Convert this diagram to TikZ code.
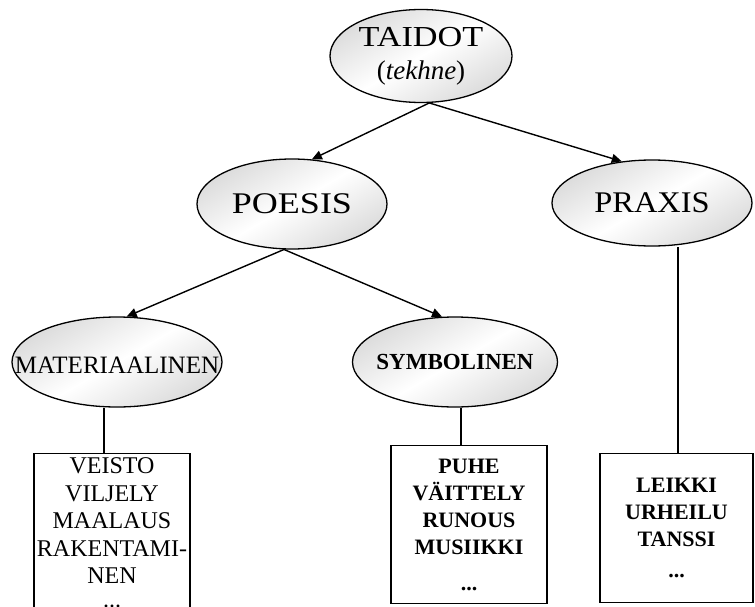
\documentclass[tikz,border=0pt]{standalone}
\usepackage{fontspec}
\setmainfont{Liberation Serif}
\usetikzlibrary{shapes.geometric,arrows.meta,calc}

\newcommand\fsz[2]{\fontsize{#1}{#2}\selectfont}
\newcommand\widen[2]{\scalebox{#1}[1]{#2}}

\tikzset{
  oval/.style={ellipse, draw=black, line width=1.3pt, inner sep=0pt,
    top color=gray!28, bottom color=gray!28, middle color=white, shading angle=30},
  listbox/.style={rectangle, draw=black, line width=1.3pt, fill=white,
    align=center, inner xsep=0pt},
  arr/.style={line width=1.4pt, -{Triangle[length=10pt,width=9pt]}},
  link/.style={line width=1.4pt},
}

\begin{document}
\begin{tikzpicture}[x=1pt, y=-1pt]
\useasboundingbox (0,0) rectangle (755,607);
\clip (0,0) rectangle (755,607);

% ovals
\node[oval, minimum width=182, minimum height=93,
  label={[align=center, font=\fsz{29}{33}]center:\widen{1.18}{TAIDOT}\\{\fsz{27}{33}(\textit{tekhne})}}]
  (taidot) at (421,56) {};
\node[oval, minimum width=190, minimum height=90,
  label={[font=\fsz{30}{36}]center:\widen{1.2}{POESIS}}] (poesis) at (292,204) {};
\node[oval, minimum width=200, minimum height=86,
  label={[font=\fsz{30}{36}]center:\widen{1.08}{PRAXIS}}] (praxis) at (652,203) {};
\node[oval, minimum width=210, minimum height=90,
  label={[font=\fsz{25}{30}, yshift=-3pt]center:MATERIAALINEN}] (mat) at (117,362) {};
\node[oval, minimum width=205, minimum height=90,
  label={[font=\bfseries\fsz{23}{28}]center:SYMBOLINEN}] (sym) at (455,362) {};

% lists
\node[listbox, anchor=north, minimum width=156, inner ysep=4pt, font=\fsz{24}{27.5}]
  (matbox) at (112,453) {VEISTO\\VILJELY\\MAALAUS\\RAKENTAMI-\\NEN\\[-4pt]...};
\node[listbox, anchor=north, minimum width=156, minimum height=158,
  font=\bfseries\fsz{22}{27}]
  (symbox) at (469,445) {PUHE\\VÄITTELY\\RUNOUS\\MUSIIKKI\\[9pt]...};
\node[listbox, anchor=north, minimum width=153, minimum height=149,
  font=\bfseries\fsz{22}{27}]
  (praxbox) at (676.5,453) {LEIKKI\\URHEILU\\TANSSI\\[4pt]...};

% arrows
\draw[arr] (taidot.-80) -- (poesis.66);
\draw[arr] (taidot.-80) -- (praxis.126);
\draw[arr] (poesis.-100) -- (mat.78);
\draw[arr] (poesis.-100) -- (sym.106);

% plain links
\draw[link] ([xshift=-8pt]matbox.north) -- ([xshift=-8pt]matbox.north |- mat.south);
\draw[link] ([xshift=-8pt]symbox.north) -- ([xshift=-8pt]symbox.north |- sym.south);
\draw[link] ([xshift=1.5pt]praxbox.north) -- ([xshift=1.5pt]praxbox.north |- praxis.south);
\end{tikzpicture}
\end{document}
